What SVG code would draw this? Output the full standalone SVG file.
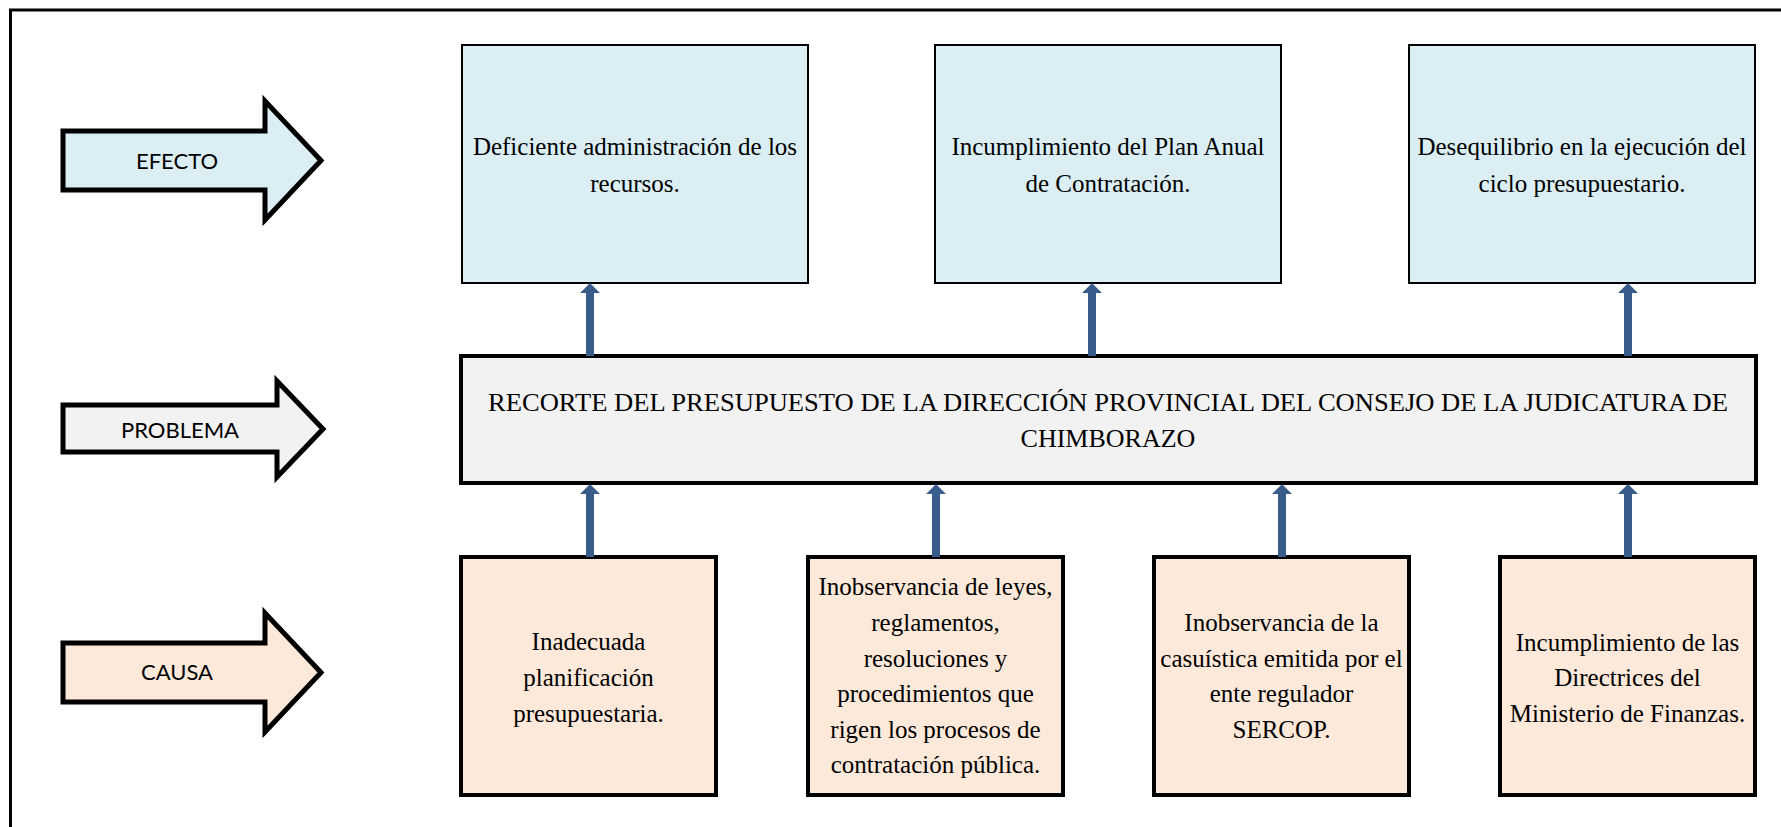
<svg xmlns="http://www.w3.org/2000/svg" width="1781" height="827" viewBox="0 0 1781 827">
<style>
.lbl{font-family:Lato,"Open Sans","Liberation Sans",sans-serif;font-size:22px;fill:#000;text-anchor:middle}
.t{font-family:"Liberation Serif","Times New Roman",serif;font-size:25px;fill:#000;text-anchor:middle}
.tp{font-family:"Liberation Serif","Times New Roman",serif;font-size:26px;fill:#000;text-anchor:middle}
.big{stroke:#000;stroke-width:5;stroke-linejoin:miter;stroke-miterlimit:10}
.eff{fill:#DAEEF3;stroke:#000;stroke-width:2}
.prob{fill:#F2F2F2;stroke:#000;stroke-width:4}
.cau{fill:#FDE9D9;stroke:#000;stroke-width:4}
.con{fill:#385D8A;stroke:none}
</style>
<rect width="1781" height="827" fill="#fff"/>
<path d="M10.5,840 V10 H1790" fill="none" stroke="#000" stroke-width="3"/>

<g id="arrow-efecto">
<path class="big" fill="#DAEEF3" d="M63,131 H265 V101 L321,160.5 L265,220 V190 H63 Z"/>
<text class="lbl" x="177" y="169">EFECTO</text>
</g>
<g id="arrow-problema">
<path class="big" fill="#F2F2F2" d="M63,405 H277 V381 L323,429 L277,477 V452 H63 Z"/>
<text class="lbl" x="180" y="438">PROBLEMA</text>
</g>
<g id="arrow-causa">
<path class="big" fill="#FDE9D9" d="M63,643 H265 V613 L321,672.5 L265,732 V702 H63 Z"/>
<text class="lbl" x="177" y="680">CAUSA</text>
</g>

<g id="efecto1">
<rect class="eff" x="462" y="45" width="346" height="238"/>
<text class="t" x="635" y="155">Deficiente administración de los</text>
<text class="t" x="635" y="192">recursos.</text>
</g>
<g id="efecto2">
<rect class="eff" x="935" y="45" width="346" height="238"/>
<text class="t" x="1108" y="155">Incumplimiento del Plan Anual</text>
<text class="t" x="1108" y="192">de Contratación.</text>
</g>
<g id="efecto3">
<rect class="eff" x="1409" y="45" width="346" height="238"/>
<text class="t" x="1582" y="155">Desequilibrio en la ejecución del</text>
<text class="t" x="1582" y="192">ciclo presupuestario.</text>
</g>

<g id="problema">
<rect class="prob" x="461" y="356" width="1295" height="127"/>
<text class="tp" x="1108" y="411" textLength="1240" lengthAdjust="spacingAndGlyphs">RECORTE DEL PRESUPUESTO DE LA DIRECCIÓN PROVINCIAL DEL CONSEJO DE LA JUDICATURA DE</text>
<text class="tp" x="1108" y="447">CHIMBORAZO</text>
</g>

<g id="causa1">
<rect class="cau" x="461" y="557" width="255" height="238"/>
<text class="t" x="588.5" y="650">Inadecuada</text>
<text class="t" x="588.5" y="686">planificación</text>
<text class="t" x="588.5" y="722">presupuestaria.</text>
</g>
<g id="causa2">
<rect class="cau" x="808" y="557" width="255" height="238"/>
<text class="t" x="935.5" y="595">Inobservancia de leyes,</text>
<text class="t" x="935.5" y="631">reglamentos,</text>
<text class="t" x="935.5" y="667">resoluciones y</text>
<text class="t" x="935.5" y="702">procedimientos que</text>
<text class="t" x="935.5" y="738">rigen los procesos de</text>
<text class="t" x="935.5" y="773">contratación pública.</text>
</g>
<g id="causa3">
<rect class="cau" x="1154" y="557" width="255" height="238"/>
<text class="t" x="1281.5" y="631">Inobservancia de la</text>
<text class="t" x="1281.5" y="667">casuística emitida por el</text>
<text class="t" x="1281.5" y="702">ente regulador</text>
<text class="t" x="1281.5" y="738">SERCOP.</text>
</g>
<g id="causa4">
<rect class="cau" x="1500" y="557" width="255" height="238"/>
<text class="t" x="1627.5" y="651">Incumplimiento de las</text>
<text class="t" x="1627.5" y="686">Directrices del</text>
<text class="t" x="1627.5" y="722">Ministerio de Finanzas.</text>
</g>

<g id="connectors">
<path class="con" d="M586,356 V293 H580 L590,283 L600,293 H594 V356 Z"/>
<path class="con" d="M1088,356 V293 H1082 L1092,283 L1102,293 H1096 V356 Z"/>
<path class="con" d="M1624,356 V293 H1618 L1628,283 L1638,293 H1632 V356 Z"/>
<path class="con" d="M586,557 V494 H580 L590,484 L600,494 H594 V557 Z"/>
<path class="con" d="M932,557 V494 H926 L936,484 L946,494 H940 V557 Z"/>
<path class="con" d="M1278,557 V494 H1272 L1282,484 L1292,494 H1286 V557 Z"/>
<path class="con" d="M1624,557 V494 H1618 L1628,484 L1638,494 H1632 V557 Z"/>
</g>
</svg>
